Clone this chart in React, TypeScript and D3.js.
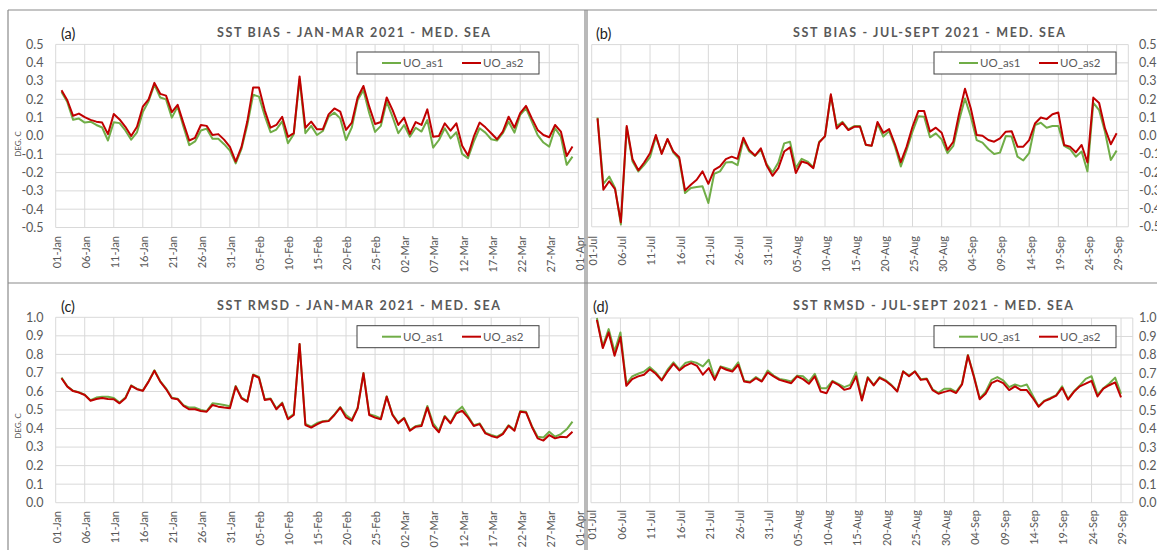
import React, { useEffect, useRef } from 'react'
import * as d3 from 'd3'

// tick labels on the date axes (one every 5 days)
const janMarLabels = ['01-Jan', '06-Jan', '11-Jan', '16-Jan', '21-Jan', '26-Jan', '31-Jan', '05-Feb', '10-Feb', '15-Feb',
  '20-Feb', '25-Feb', '02-Mar', '07-Mar', '12-Mar', '17-Mar', '22-Mar', '27-Mar', '01-Apr']
const julSepLabels = ['01-Jul', '06-Jul', '11-Jul', '16-Jul', '21-Jul', '26-Jul', '31-Jul', '05-Aug', '10-Aug', '15-Aug',
  '20-Aug', '25-Aug', '30-Aug', '04-Sep', '09-Sep', '14-Sep', '19-Sep', '24-Sep', '29-Sep']

const biasTicks = [0.5, 0.4, 0.3, 0.2, 0.1, 0.0, -0.1, -0.2, -0.3, -0.4, -0.5]
const rmsdTicks = [1.0, 0.9, 0.8, 0.7, 0.6, 0.5, 0.4, 0.3, 0.2, 0.1, 0.0]

const seriesNames = ['UO_as1', 'UO_as2']

// daily values, first value = 02-Jan / 02-Jul
const biasJanMarAs1 = [
  0.24, 0.185, 0.088, 0.095, 0.073, 0.078, 0.06, 0.046, -0.025, 0.075,
  0.07, 0.03, -0.02, 0.02, 0.13, 0.19, 0.28, 0.21, 0.2, 0.1,
  0.16, 0.05, -0.05, -0.03, 0.03, 0.04, -0.015, -0.015, -0.045, -0.08,
  -0.15, -0.07, 0.06, 0.225, 0.215, 0.11, 0.02, 0.035, 0.08, -0.04,
  0.01, 0.31, 0.015, 0.055, 0.005, 0.027, 0.105, 0.127, 0.096, -0.022,
  0.047, 0.196, 0.25, 0.124, 0.022, 0.055, 0.187, 0.105, 0.015, 0.06,
  -0.004, 0.045, 0.024, 0.087, -0.064, -0.022, 0.042, -0.013, 0.02, -0.098,
  -0.122, -0.031, 0.042, 0.018, -0.018, -0.025, 0.015, 0.078, 0.018, 0.115,
  0.151, 0.078, 0.005, -0.036, -0.058, 0.042, -0.004, -0.158, -0.113]
const biasJanMarAs2 = [
  0.25, 0.195, 0.11, 0.122, 0.103, 0.088, 0.078, 0.073, 0.01, 0.12,
  0.09, 0.05, 0.0, 0.05, 0.16, 0.2, 0.29, 0.23, 0.22, 0.13,
  0.17, 0.07, -0.025, -0.01, 0.06, 0.055, 0.005, 0.01, -0.02, -0.06,
  -0.14, -0.06, 0.08, 0.265, 0.265, 0.14, 0.045, 0.06, 0.105, -0.005,
  0.015, 0.325, 0.045, 0.078, 0.036, 0.036, 0.118, 0.15, 0.133, 0.033,
  0.073, 0.21, 0.273, 0.16, 0.065, 0.076, 0.21, 0.142, 0.06, 0.1,
  0.011, 0.076, 0.06, 0.145, -0.004, 0.0, 0.069, 0.029, 0.069, -0.053,
  -0.107, -0.004, 0.073, 0.047, 0.015, -0.018, 0.024, 0.105, 0.045, 0.124,
  0.164, 0.096, 0.033, 0.005, -0.007, 0.06, 0.024, -0.109, -0.058]

const biasJulSepAs1 = [
  0.1, -0.265, -0.224, -0.287, -0.487, 0.045, -0.142, -0.196, -0.16, -0.118,
  -0.005, -0.096, -0.02, -0.093, -0.129, -0.315, -0.287, -0.282, -0.278, -0.369,
  -0.209, -0.196, -0.147, -0.144, -0.162, -0.024, -0.087, -0.111, -0.078, -0.156,
  -0.202, -0.147, -0.042, -0.033, -0.178, -0.127, -0.142, -0.173, -0.033, -0.005,
  0.222, 0.053, 0.076, 0.035, 0.053, 0.053, -0.051, -0.055, 0.067, -0.005,
  0.025, -0.06, -0.169, -0.078, 0.022, 0.107, 0.104, -0.009, 0.013, -0.02,
  -0.096, -0.056, 0.085, 0.204, 0.104, -0.024, -0.038, -0.073, -0.1, -0.093,
  -0.002, -0.005, -0.115, -0.136, -0.096, 0.058, 0.071, 0.044, 0.053, 0.053,
  -0.056, -0.073, -0.115, -0.087, -0.196, 0.18, 0.14, 0.022, -0.133, -0.082]
const biasJulSepAs2 = [
  0.095, -0.296, -0.25, -0.293, -0.475, 0.053, -0.129, -0.19, -0.147, -0.096,
  0.004, -0.1, -0.018, -0.087, -0.118, -0.3, -0.269, -0.242, -0.196, -0.264,
  -0.187, -0.169, -0.129, -0.115, -0.127, -0.011, -0.078, -0.109, -0.069, -0.164,
  -0.22, -0.178, -0.087, -0.064, -0.205, -0.142, -0.151, -0.178, -0.038, -0.002,
  0.227, 0.04, 0.071, 0.031, 0.049, 0.049, -0.05, -0.055, 0.075, 0.016,
  0.036, -0.047, -0.145, -0.06, 0.049, 0.135, 0.135, 0.022, 0.044, 0.016,
  -0.078, -0.033, 0.122, 0.258, 0.149, 0.004, 0.0, -0.024, -0.033, -0.015,
  0.022, 0.025, -0.06, -0.06, -0.024, 0.067, 0.1, 0.091, 0.118, 0.127,
  -0.051, -0.06, -0.091, -0.051, -0.147, 0.209, 0.18, 0.04, -0.047, 0.013]

const rmsdJanMarAs1 = [
  0.675, 0.628, 0.604, 0.596, 0.583, 0.553, 0.567, 0.572, 0.572, 0.565,
  0.54, 0.567, 0.633, 0.614, 0.605, 0.655, 0.714, 0.656, 0.617, 0.566,
  0.561, 0.526, 0.513, 0.513, 0.5, 0.494, 0.536, 0.532, 0.527, 0.52,
  0.63, 0.567, 0.548, 0.692, 0.678, 0.558, 0.562, 0.508, 0.54, 0.455,
  0.478, 0.856, 0.425, 0.41, 0.43, 0.44, 0.443, 0.476, 0.516, 0.473,
  0.448, 0.512, 0.7, 0.478, 0.468, 0.455, 0.574, 0.476, 0.432, 0.458,
  0.392, 0.413, 0.42, 0.522, 0.428, 0.388, 0.468, 0.432, 0.49, 0.518,
  0.468, 0.418, 0.428, 0.378, 0.365, 0.356, 0.374, 0.418, 0.392, 0.494,
  0.49, 0.414, 0.356, 0.352, 0.383, 0.356, 0.37, 0.396, 0.437]
const rmsdJanMarAs2 = [
  0.671, 0.626, 0.602, 0.594, 0.581, 0.55, 0.559, 0.565, 0.559, 0.558,
  0.536, 0.563, 0.63, 0.612, 0.603, 0.653, 0.712, 0.653, 0.613, 0.563,
  0.558, 0.522, 0.504, 0.504, 0.495, 0.491, 0.527, 0.518, 0.513, 0.509,
  0.626, 0.563, 0.545, 0.689, 0.674, 0.554, 0.559, 0.504, 0.536, 0.45,
  0.473, 0.856, 0.419, 0.405, 0.423, 0.437, 0.44, 0.473, 0.513, 0.46,
  0.442, 0.509, 0.698, 0.473, 0.459, 0.45, 0.572, 0.473, 0.428, 0.455,
  0.388, 0.41, 0.414, 0.514, 0.414, 0.38, 0.464, 0.428, 0.482, 0.496,
  0.46, 0.414, 0.424, 0.374, 0.36, 0.351, 0.37, 0.415, 0.388, 0.491,
  0.487, 0.41, 0.347, 0.335, 0.365, 0.347, 0.356, 0.353, 0.383]

const rmsdJulSepAs1 = [
  1.0, 0.846, 0.94, 0.819, 0.922, 0.644, 0.684, 0.698, 0.71, 0.734,
  0.705, 0.665, 0.72, 0.76, 0.722, 0.756, 0.765, 0.756, 0.738, 0.774,
  0.674, 0.738, 0.728, 0.718, 0.76, 0.66, 0.655, 0.68, 0.66, 0.716,
  0.688, 0.67, 0.665, 0.656, 0.688, 0.684, 0.656, 0.698, 0.62, 0.62,
  0.66, 0.643, 0.626, 0.638, 0.705, 0.56, 0.68, 0.638, 0.68, 0.664,
  0.638, 0.605, 0.712, 0.688, 0.712, 0.668, 0.672, 0.614, 0.595, 0.617,
  0.617, 0.6, 0.645, 0.8, 0.69, 0.565, 0.6, 0.665, 0.68, 0.662,
  0.626, 0.64, 0.63, 0.64, 0.58, 0.522, 0.553, 0.567, 0.583, 0.63,
  0.562, 0.603, 0.635, 0.67, 0.685, 0.585, 0.62, 0.645, 0.677, 0.59]
const rmsdJulSepAs2 = [
  0.99, 0.837, 0.922, 0.796, 0.897, 0.633, 0.669, 0.684, 0.693, 0.723,
  0.698, 0.662, 0.71, 0.752, 0.716, 0.741, 0.756, 0.741, 0.693, 0.729,
  0.665, 0.734, 0.72, 0.71, 0.747, 0.656, 0.651, 0.674, 0.656, 0.705,
  0.684, 0.665, 0.656, 0.647, 0.684, 0.669, 0.644, 0.684, 0.602, 0.593,
  0.656, 0.638, 0.611, 0.62, 0.684, 0.553, 0.676, 0.635, 0.676, 0.66,
  0.635, 0.602, 0.71, 0.685, 0.71, 0.665, 0.67, 0.61, 0.59, 0.6,
  0.608, 0.594, 0.64, 0.797, 0.683, 0.56, 0.59, 0.647, 0.662, 0.647,
  0.61, 0.63, 0.61, 0.61, 0.568, 0.52, 0.55, 0.563, 0.58, 0.622,
  0.558, 0.6, 0.63, 0.645, 0.66, 0.575, 0.618, 0.636, 0.651, 0.57]

const FONT = "Lato, 'Open Sans', sans-serif"
const TEXT = '#595959'
const GREEN = '#70ad47'
const RED = '#c00000'

const panels = [
  { tag: '(a)', title: 'SST BIAS - JAN-MAR 2021 - MED. SEA', as1: biasJanMarAs1, as2: biasJanMarAs2,
    labels: janMarLabels, days: 90, yTicks: biasTicks, yDomain: [-0.5, 0.5],
    left: 55.7, right: 578.3, top: 44.4, bottom: 227.5, side: 'left', yLabelX: 43.5,
    titleX: 217, titleW: 273, titleY: 36.7, tagX: 61, tagY: 38.5,
    legendX: 357, legendY: 52, labelTop: 236, degY: 144 },
  { tag: '(b)', title: 'SST BIAS - JUL-SEPT 2021 - MED. SEA', as1: biasJulSepAs1, as2: biasJulSepAs2,
    labels: julSepLabels, days: 92, yTicks: biasTicks, yDomain: [-0.5, 0.5],
    left: 591.7, right: 1128.3, top: 44.6, bottom: 226.8, side: 'right', yLabelX: 1139,
    titleX: 793, titleW: 272, titleY: 36.7, tagX: 596, tagY: 38.5,
    legendX: 934, legendY: 52, labelTop: 236, degY: null },
  { tag: '(c)', title: 'SST RMSD - JAN-MAR 2021 - MED. SEA', as1: rmsdJanMarAs1, as2: rmsdJanMarAs2,
    labels: janMarLabels, days: 90, yTicks: rmsdTicks, yDomain: [0, 1],
    left: 55.7, right: 578.3, top: 317.3, bottom: 502.7, side: 'left', yLabelX: 43.5,
    titleX: 217, titleW: 283, titleY: 310, tagX: 61, tagY: 311.5,
    legendX: 357, legendY: 325.7, labelTop: 511, degY: 426 },
  { tag: '(d)', title: 'SST RMSD - JUL-SEPT 2021 - MED. SEA', as1: rmsdJulSepAs1, as2: rmsdJulSepAs2,
    labels: julSepLabels, days: 92, yTicks: rmsdTicks, yDomain: [0, 1],
    left: 591, right: 1132.8, top: 318, bottom: 502.7, side: 'right', yLabelX: 1139,
    titleX: 793, titleW: 280, titleY: 310, tagX: 593, tagY: 311.5,
    legendX: 934, legendY: 325.7, labelTop: 510, degY: null },
]

function drawPanel(svg: any, p: any) {
  const x = d3.scaleLinear().domain([0, p.days]).range([p.left, p.right])
  const y = d3.scaleLinear().domain(p.yDomain).range([p.bottom, p.top])
  const g = svg.append('g')

  // grid
  g.selectAll('line.hgrid').data(p.yTicks).enter().append('line')
    .attr('x1', p.left).attr('x2', p.right)
    .attr('y1', (d: number) => y(d)).attr('y2', (d: number) => y(d))
    .attr('stroke', '#d9d9d9').attr('stroke-width', 1)

  const gridDays = d3.range(0, p.days + 1, 5)
  if (gridDays[gridDays.length - 1] !== p.days) gridDays.push(p.days)
  g.selectAll('line.vgrid').data(gridDays).enter().append('line')
    .attr('x1', (d: number) => x(d)).attr('x2', (d: number) => x(d))
    .attr('y1', p.top).attr('y2', p.bottom)
    .attr('stroke', '#d9d9d9').attr('stroke-width', 1)

  // x labels, rotated
  g.selectAll('text.xlab').data(p.labels).enter().append('text')
    .attr('transform', (d: string, i: number) => `translate(${x(i * 5) + 1.5},${p.labelTop}) rotate(-90)`)
    .attr('text-anchor', 'end').attr('dy', '0.35em')
    .attr('font-family', FONT).attr('font-size', 11).attr('fill', TEXT)
    .text((d: string) => d)

  // y labels
  g.selectAll('text.ylab').data(p.yTicks).enter().append('text')
    .attr('x', p.yLabelX).attr('y', (d: number) => y(d)).attr('dy', '0.35em')
    .attr('text-anchor', p.side === 'left' ? 'end' : 'start')
    .attr('font-family', FONT).attr('font-size', 12.5).attr('fill', TEXT)
    .text((d: number) => d.toFixed(1))

  if (p.degY) {
    g.append('text')
      .attr('transform', `translate(18.5,${p.degY}) rotate(-90)`)
      .attr('text-anchor', 'middle').attr('dy', '0.35em')
      .attr('font-family', FONT).attr('font-size', 8).attr('fill', TEXT)
      .text('DEG. C')
  }

  // series
  const line = d3.line<number>()
    .x((d, i) => x(i + 1))
    .y(d => y(d))
  g.append('path').attr('d', line(p.as1)).attr('fill', 'none')
    .attr('stroke', GREEN).attr('stroke-width', 2).attr('stroke-linejoin', 'round')
  g.append('path').attr('d', line(p.as2)).attr('fill', 'none')
    .attr('stroke', RED).attr('stroke-width', 2).attr('stroke-linejoin', 'round')

  // titles
  g.append('text').attr('x', p.tagX).attr('y', p.tagY)
    .attr('font-family', FONT).attr('font-size', 14.5).attr('fill', '#222')
    .text(p.tag)
  g.append('text').attr('x', p.titleX).attr('y', p.titleY)
    .attr('textLength', p.titleW).attr('lengthAdjust', 'spacing')
    .attr('font-family', FONT).attr('font-size', 12.5).attr('font-weight', 'bold').attr('fill', TEXT)
    .text(p.title)

  // legend
  const lg = g.append('g').attr('transform', `translate(${p.legendX},${p.legendY})`)
  lg.append('rect').attr('x', 0).attr('y', 0).attr('width', 182).attr('height', 22)
    .attr('fill', '#fff').attr('stroke', '#404040').attr('stroke-width', 1)
  const items = [{ name: seriesNames[0], color: GREEN, x: 25 }, { name: seriesNames[1], color: RED, x: 105 }]
  items.forEach(it => {
    lg.append('line').attr('x1', it.x).attr('x2', it.x + 19).attr('y1', 11).attr('y2', 11)
      .attr('stroke', it.color).attr('stroke-width', 2)
    lg.append('text').attr('x', it.x + 21).attr('y', 11).attr('dy', '0.35em')
      .attr('font-family', FONT).attr('font-size', 11.5).attr('fill', TEXT)
      .text(it.name)
  })
}

export default function App() {
  const ref = useRef<SVGSVGElement>(null)

  useEffect(() => {
    const svg = d3.select(ref.current)
    svg.selectAll('*').remove()

    svg.append('rect').attr('width', 1157).attr('height', 550).attr('fill', '#fff')

    // panel frames
    const frame = svg.append('g').attr('stroke', '#8a8a8a').attr('stroke-width', 1.2)
    frame.append('line').attr('x1', 8).attr('x2', 1157).attr('y1', 10).attr('y2', 10)
    frame.append('line').attr('x1', 8).attr('x2', 8).attr('y1', 10).attr('y2', 550)
    frame.append('line').attr('x1', 8).attr('x2', 1157).attr('y1', 283).attr('y2', 283)
    frame.append('line').attr('x1', 585).attr('x2', 585).attr('y1', 10).attr('y2', 550)
    frame.append('line').attr('x1', 587).attr('x2', 587).attr('y1', 10).attr('y2', 550)

    panels.forEach(p => drawPanel(svg, p))
  }, [])

  return (
    <svg ref={ref} width={1157} height={550}
      style={{ position: 'absolute', left: 0, top: 0, display: 'block' }} />
  )
}
